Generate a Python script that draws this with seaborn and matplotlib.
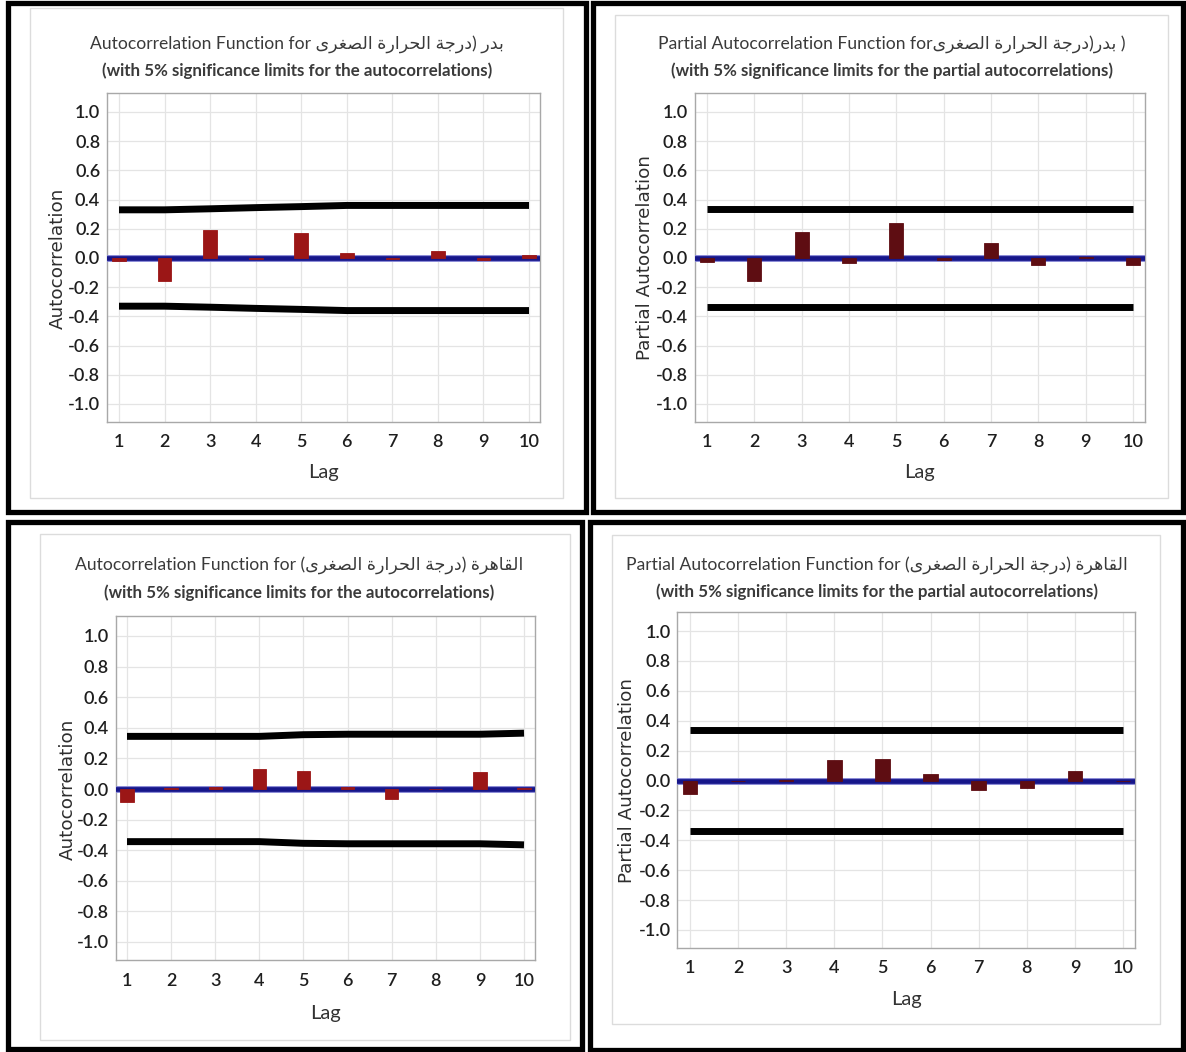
import matplotlib
matplotlib.use("Agg")
import matplotlib.pyplot as plt
import seaborn as sns
from matplotlib.patches import Rectangle

# ---------------- data ----------------
lags = [1, 2, 3, 4, 5, 6, 7, 8, 9, 10]

acf_badr = [-0.02, -0.16, 0.19, -0.01, 0.17, 0.035, -0.005, 0.045, -0.015, 0.02]
acf_badr_limit = [0.33, 0.33, 0.337, 0.345, 0.352, 0.36, 0.36, 0.36, 0.36, 0.36]

pacf_badr = [-0.025, -0.16, 0.18, -0.035, 0.24, -0.012, 0.10, -0.045, 0.005, -0.05]
pacf_badr_limit = [0.335, 0.335, 0.335, 0.335, 0.335, 0.335, 0.335, 0.335, 0.335, 0.335]

acf_cairo = [-0.085, 0.004, 0.01, 0.13, 0.115, 0.015, -0.065, 0.003, 0.11, 0.006]
acf_cairo_limit = [0.344, 0.344, 0.344, 0.344, 0.355, 0.358, 0.358, 0.358, 0.358, 0.365]

pacf_cairo = [-0.09, 0.0, 0.005, 0.135, 0.145, 0.045, -0.065, -0.05, 0.065, -0.005]
pacf_cairo_limit = [0.34, 0.34, 0.34, 0.34, 0.34, 0.34, 0.34, 0.34, 0.34, 0.34]

yticks = [1.0, 0.8, 0.6, 0.4, 0.2, 0.0, -0.2, -0.4, -0.6, -0.8, -1.0]
ytick_labels = ["1.0", "0.8", "0.6", "0.4", "0.2", "0.0", "-0.2", "-0.4", "-0.6", "-0.8", "-1.0"]
xtick_labels = ["1", "2", "3", "4", "5", "6", "7", "8", "9", "10"]

station_badr = "بدر"
station_cairo = "القاهرة"
var_name = "درجة الحرارة الصغرى"

sub_acf = "(with 5% significance limits for the autocorrelations)"
sub_pacf = "(with 5% significance limits for the partial autocorrelations)"

# ---------------- Arabic shaping (visual order) ----------------
FORMS = {
    "ا": (0xFE8D, 0xFE8E), "ب": (0xFE8F, 0xFE90, 0xFE91, 0xFE92),
    "ة": (0xFE93, 0xFE94), "ج": (0xFE9D, 0xFE9E, 0xFE9F, 0xFEA0),
    "ح": (0xFEA1, 0xFEA2, 0xFEA3, 0xFEA4), "د": (0xFEA9, 0xFEAA),
    "ر": (0xFEAD, 0xFEAE), "ص": (0xFEB9, 0xFEBA, 0xFEBB, 0xFEBC),
    "غ": (0xFECD, 0xFECE, 0xFECF, 0xFED0), "ق": (0xFED5, 0xFED6, 0xFED7, 0xFED8),
    "ل": (0xFEDD, 0xFEDE, 0xFEDF, 0xFEE0), "ه": (0xFEE9, 0xFEEA, 0xFEEB, 0xFEEC),
    "ى": (0xFEEF, 0xFEF0),
}


def shape_word(word):
    out = []
    n = len(word)
    for i, ch in enumerate(word):
        f = FORMS.get(ch)
        if f is None:
            out.append(ch)
            continue
        prev_joins = i > 0 and word[i - 1] in FORMS and len(FORMS[word[i - 1]]) == 4
        next_joins = len(f) == 4 and i < n - 1 and word[i + 1] in FORMS
        if prev_joins and next_joins:
            g = f[3]
        elif prev_joins:
            g = f[1]
        elif next_joins:
            g = f[2]
        else:
            g = f[0]
        out.append(chr(g))
    return "".join(reversed(out))


def rtl(phrase):
    return " ".join(shape_word(w) for w in reversed(phrase.split(" ")))


title1 = "Autocorrelation Function for " + rtl(var_name) + ") " + shape_word(station_badr)
title2 = "Partial Autocorrelation Function for" + rtl(var_name) + ")" + shape_word(station_badr) + " )"
title3 = "Autocorrelation Function for (" + rtl(var_name) + ") " + shape_word(station_cairo)
title4 = "Partial Autocorrelation Function for (" + rtl(var_name) + ") " + shape_word(station_cairo)

# ---------------- style ----------------
sns.set_style("white")
TXT_FONT = ["Lato", "DejaVu Sans"]
plt.rcParams["font.family"] = TXT_FONT

W, H = 1186, 1052
fig = plt.figure(figsize=(W / 100, H / 100), dpi=100)
fig.patch.set_facecolor("white")

XLIM = (0.74, 10.25)
YLIM = (-1.12, 1.13)


def fig_rect(x0, y0, x1, y1):
    return (x0 / W, 1 - y1 / H, (x1 - x0) / W, (y1 - y0) / H)


def frame(x0, y0, x1, y1, color, lw):
    r = fig_rect(x0, y0, x1, y1)
    fig.add_artist(Rectangle((r[0], r[1]), r[2], r[3], transform=fig.transFigure,
                             fill=False, edgecolor=color, linewidth=lw, zorder=10))


panels = [
    dict(vals=acf_badr, lim=acf_badr_limit, color="#9b1616", title=title1, sub=sub_acf,
         ylabel="Autocorrelation", x1=119, x10=529, yt=112, yb=404,
         outer=(8, 3, 586, 512), inner=(30, 8, 563, 498),
         tx=297, ty=44, sy=71, ylx=58, lagy=472),
    dict(vals=pacf_badr, lim=pacf_badr_limit, color="#5e0d12", title=title2, sub=sub_pacf,
         ylabel="Partial Autocorrelation", x1=707, x10=1133, yt=112, yb=404,
         outer=(593, 3, 1183, 512), inner=(615, 15, 1168, 498),
         tx=892, ty=44, sy=71, ylx=645, lagy=472),
    dict(vals=acf_cairo, lim=acf_cairo_limit, color="#9b1616", title=title3, sub=sub_acf,
         ylabel="Autocorrelation", x1=127, x10=524, yt=636, yb=942,
         outer=(8, 522, 582, 1049), inner=(40, 534, 570, 1040),
         tx=299, ty=565, sy=593, ylx=68, lagy=1013),
    dict(vals=pacf_cairo, lim=pacf_cairo_limit, color="#5e0d12", title=title4, sub=sub_pacf,
         ylabel="Partial Autocorrelation", x1=690, x10=1123, yt=631, yb=930,
         outer=(590, 522, 1183, 1050), inner=(612, 535, 1160, 1024),
         tx=877, ty=565, sy=592, ylx=627, lagy=1000),
]

for p in panels:
    ppl = (p["x10"] - p["x1"]) / 9
    left = p["x1"] - (1 - XLIM[0]) * ppl
    right = p["x10"] + (XLIM[1] - 10) * ppl
    ppu = (p["yb"] - p["yt"]) / 2
    y0 = (p["yt"] + p["yb"]) / 2
    top = y0 - YLIM[1] * ppu
    bottom = y0 - YLIM[0] * ppu
    ax = fig.add_axes(fig_rect(left, top, right, bottom))

    ax.axhline(0, color="#8a8ad6", linewidth=5.0, zorder=3)
    ax.axhline(0, color="#16168a", linewidth=3.4, zorder=4)
    sns.barplot(x=lags, y=p["vals"], native_scale=True, width=0.3, color=p["color"],
                saturation=1, edgecolor=p["color"], linewidth=0.6, ax=ax, zorder=5)
    sns.lineplot(x=lags, y=p["lim"], color="black", linewidth=5.0, ax=ax, zorder=6,
                 solid_capstyle="butt")
    sns.lineplot(x=lags, y=[-v for v in p["lim"]], color="black", linewidth=5.0, ax=ax,
                 zorder=6, solid_capstyle="butt")

    ax.set_xlim(*XLIM)
    ax.set_ylim(*YLIM)
    ax.set_xticks(lags)
    ax.set_xticklabels(xtick_labels, fontweight="semibold")
    ax.set_yticks(yticks)
    ax.set_yticklabels(ytick_labels, fontweight="semibold")
    ax.set_xlabel("")
    ax.set_ylabel("")
    ax.grid(True, color="#e4e4e4", linewidth=0.9, zorder=0)
    ax.set_axisbelow(True)
    for s in ax.spines.values():
        s.set_color("#a8a8a8")
        s.set_linewidth(1.0)
    ax.tick_params(axis="both", direction="out", length=4, width=0.8, color="#a0a0a0",
                   labelsize=13, labelcolor="#1e1e1e")
    ax.tick_params(axis="x", pad=5)
    ax.tick_params(axis="y", pad=1)

    cx = (left + right) / 2
    fig.text(p["tx"] / W, 1 - p["ty"] / H, p["title"], ha="center", va="center",
             fontsize=12.6, color="#3a3a3a", family=TXT_FONT)
    fig.text(p["tx"] / W, 1 - p["sy"] / H, p["sub"], ha="center", va="center",
             fontsize=12.2, color="#3a3a3a", fontweight="bold", family=TXT_FONT)
    fig.text(p["ylx"] / W, 1 - y0 / H, p["ylabel"], ha="center", va="center",
             rotation=90, fontsize=13.2, color="#2e2e2e", family=["DejaVu Sans"])
    fig.text(cx / W, 1 - p["lagy"] / H, "Lag", ha="center", va="center",
             fontsize=14.5, color="#333333", family=TXT_FONT)

    frame(*p["inner"], color="#dcdcdc", lw=1.0)
    frame(*p["outer"], color="black", lw=3.8)

fig.savefig("out.png", dpi=100, facecolor="white")
